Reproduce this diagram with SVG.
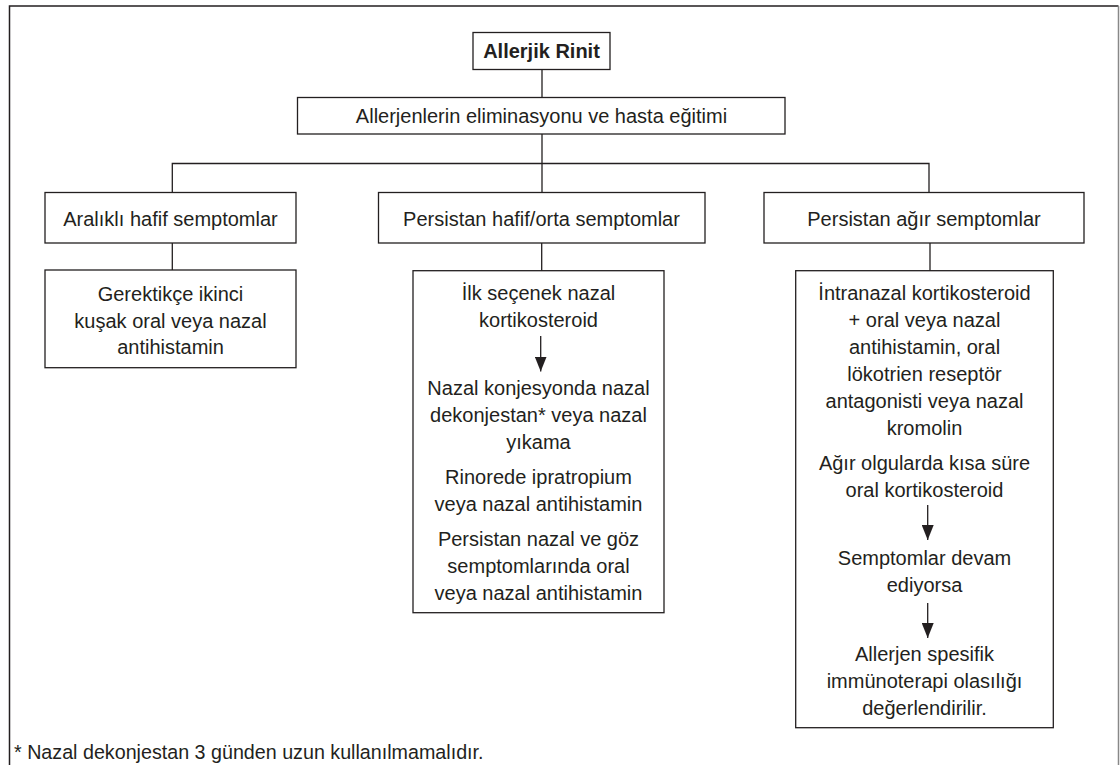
<svg xmlns="http://www.w3.org/2000/svg" width="1120" height="765" viewBox="0 0 1120 765">
<defs>
<style>
.box{fill:#fff;stroke:#231f20;stroke-width:1.3}
.t{font-family:"Liberation Sans",Arial,sans-serif;font-size:20px;fill:#231f20;text-anchor:middle}
.b{font-weight:bold}
.c{fill:none;stroke:#231f20;stroke-width:1.3}
.f{font-family:"Liberation Sans",Arial,sans-serif;font-size:19.7px;fill:#231f20}
</style>
<marker id="ah" markerUnits="userSpaceOnUse" markerWidth="15" markerHeight="12" refX="15" refY="6" orient="auto" viewBox="0 0 15 12"><path d="M0,0 L15,6 L0,12 z" fill="#231f20"/></marker>
</defs>
<rect width="1120" height="765" fill="#fff"/>
<g id="frame">
<path d="M9.5,765 V6 H1118.5" fill="none" stroke="#231f20" stroke-width="1.5"/>
<line x1="1118.5" y1="6" x2="1118.5" y2="765" stroke="#888" stroke-width="1.5"/>
</g>
<g id="n-title">
<rect class="box" x="473" y="32.5" width="137" height="37"/>
<text class="t b" x="541.5" y="57.5">Allerjik Rinit</text>
</g>
<g id="n-elim">
<rect class="box" x="297.5" y="97.5" width="487.5" height="36.5"/>
<text class="t" x="541.5" y="122.7">Allerjenlerin eliminasyonu ve hasta eğitimi</text>
</g>
<g id="n-a">
<rect class="box" x="45" y="192.5" width="251" height="50.5"/>
<text class="t" x="170.5" y="225.5">Aralıklı hafif semptomlar</text>
</g>
<g id="n-b">
<rect class="box" x="378.5" y="192.5" width="326.5" height="50.5"/>
<text class="t" x="541.5" y="225.5">Persistan hafif/orta semptomlar</text>
</g>
<g id="n-c">
<rect class="box" x="764" y="192.5" width="320" height="50.5"/>
<text class="t" x="924" y="225.5">Persistan ağır semptomlar</text>
</g>
<g id="n-a2">
<rect class="box" x="45" y="270" width="251" height="97.7"/>
<text class="t" x="170.5" y="300.7">Gerektikçe ikinci</text>
<text class="t" x="170.5" y="327.7">kuşak oral veya nazal</text>
<text class="t" x="170.5" y="354.3">antihistamin</text>
</g>
<g id="n-b2">
<rect class="box" x="413" y="270.7" width="251" height="342"/>
<text class="t" x="538.5" y="300">İlk seçenek nazal</text>
<text class="t" x="538.5" y="327">kortikosteroid</text>
<text class="t" x="538.5" y="395">Nazal konjesyonda nazal</text>
<text class="t" x="538.5" y="422">dekonjestan* veya nazal</text>
<text class="t" x="538.5" y="449">yıkama</text>
<text class="t" x="538.5" y="484">Rinorede ipratropium</text>
<text class="t" x="538.5" y="511">veya nazal antihistamin</text>
<text class="t" x="538.5" y="546">Persistan nazal ve göz</text>
<text class="t" x="538.5" y="573">semptomlarında oral</text>
<text class="t" x="538.5" y="600">veya nazal antihistamin</text>
</g>
<g id="n-c2">
<rect class="box" x="795.7" y="270.7" width="257.6" height="457"/>
<text class="t" x="924.5" y="300">İntranazal kortikosteroid</text>
<text class="t" x="924.5" y="327">+ oral veya nazal</text>
<text class="t" x="924.5" y="354">antihistamin, oral</text>
<text class="t" x="924.5" y="381">lökotrien reseptör</text>
<text class="t" x="924.5" y="408">antagonisti veya nazal</text>
<text class="t" x="924.5" y="435">kromolin</text>
<text class="t" x="924.5" y="470">Ağır olgularda kısa süre</text>
<text class="t" x="924.5" y="497">oral kortikosteroid</text>
<text class="t" x="924.5" y="565">Semptomlar devam</text>
<text class="t" x="924.5" y="592">ediyorsa</text>
<text class="t" x="924.5" y="661">Allerjen spesifik</text>
<text class="t" x="924.5" y="688">immünoterapi olasılığı</text>
<text class="t" x="924.5" y="715">değerlendirilir.</text>
</g>
<g id="connectors" class="c">
<path d="M542,69.5 V97.5"/>
<path d="M542,134 V192.5"/>
<path d="M172.3,192.5 V163.5 H929 V192.5"/>
<path d="M172.3,243 V270"/>
<path d="M541.7,243 V270.7"/>
<path d="M930,243 V270.7"/>
<path d="M540.7,336 V371.5" marker-end="url(#ah)"/>
<path d="M927.7,505 V540" marker-end="url(#ah)"/>
<path d="M927.7,603 V638" marker-end="url(#ah)"/>
</g>
<text id="footnote" class="f" x="14" y="759">* Nazal dekonjestan 3 günden uzun kullanılmamalıdır.</text>
</svg>
